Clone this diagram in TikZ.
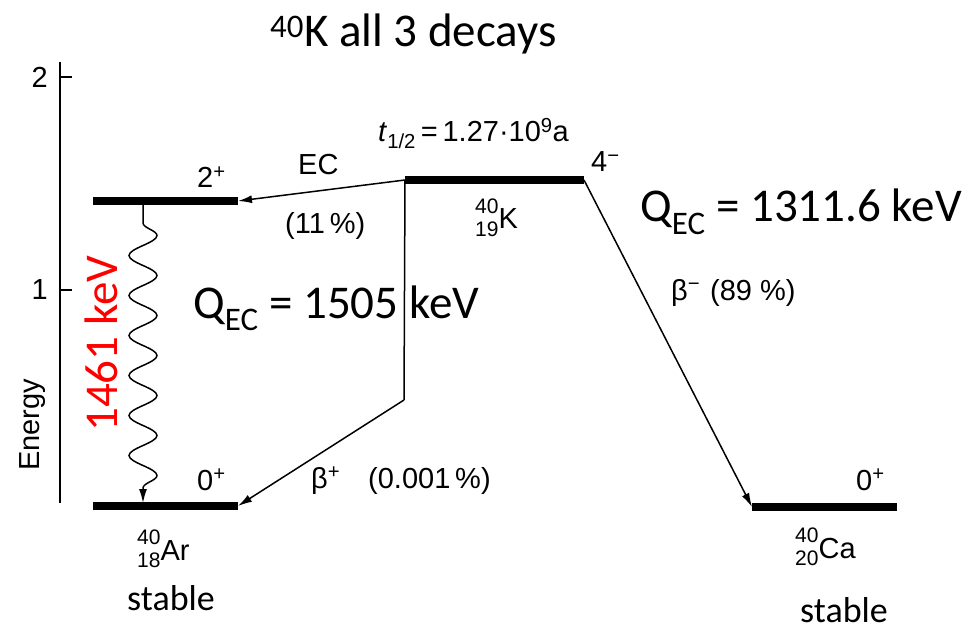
\documentclass[tikz,border=0pt]{standalone}
\usepackage{fontspec}
\setmainfont{Carlito}
\newfontfamily\helv{Liberation Sans}
\usetikzlibrary{arrows.meta,decorations.pathmorphing}
\newcommand\nuclide[3]{\makebox[0pt][l]{\raisebox{0.52em}{\fontsize{21}{21}\selectfont #1}}\raisebox{-0.27em}{\fontsize{21}{21}\selectfont #2}#3}

\begin{document}
\begin{tikzpicture}[x=1pt,y=-1pt]
\tikzset{
  level/.style={line width=8pt},
  axisline/.style={line width=1.5pt},
  trans/.style={line width=1.5pt,-{Latex[length=14pt,width=8pt]}},
  lbl/.style={font={\helv\fontsize{29}{34}\selectfont},inner sep=0pt,anchor=base west},
  note/.style={font={\fontsize{47}{55}\selectfont},inner sep=0pt,anchor=base west},
  stablelbl/.style={font={\fontsize{36}{42}\selectfont},inner sep=0pt,anchor=base west}
}
\useasboundingbox (0,0) rectangle (980,631);
\fill[white] (0,0) rectangle (980,631);
% axis
\coordinate (ax_top) at (60,62);
\coordinate (ax_bot) at (60,503);
\coordinate (tick2) at (60,77);
\coordinate (tick1) at (60,290);
\draw[axisline] (ax_top) -- (ax_bot);
\draw[axisline] (tick2) -- ++(12,0);
\draw[axisline] (tick1) -- ++(12,0);
\node[lbl,anchor=east] (n_two) at (48,77) {2};
\node[lbl,anchor=east] (n_one) at (48,290) {1};
\node[lbl,anchor=base,rotate=90] (n_energy) at (39,425) {Energy};
% levels
\coordinate (ar2_l) at (93,201);
\coordinate (ar2_r) at (238,201);
\coordinate (ar0_l) at (93,506);
\coordinate (ar0_r) at (238,506);
\coordinate (k_l) at (405,180);
\coordinate (k_r) at (584,180);
\coordinate (ca_l) at (752,507);
\coordinate (ca_r) at (897,507);
\coordinate (k_bend) at (404,400);
\coordinate (gam_top) at (143,201);
\coordinate (gam_bot) at (143,503);
\draw[level] (ar2_l) -- (ar2_r);
\draw[level] (ar0_l) -- (ar0_r);
\draw[level] (k_l) -- (k_r);
\draw[level] (ca_l) -- (ca_r);
% level labels
\node[lbl] (n_ar2spin) at (197,188) {2\textsuperscript{+}};
\node[lbl] (n_ar0spin) at (197,490) {0\textsuperscript{+}};
\node[lbl] (n_kspin) at (591,172) {4\textsuperscript{−}};
\node[lbl] (n_caspin) at (856,490) {0\textsuperscript{+}};
\node[lbl] (n_thalf) at (378,142) {\textit{t}\textsubscript{1/2}\,=\,1.27·10\textsuperscript{9}a};
\node[lbl] (n_k) at (475,229) {\nuclide{40}{19}{K}};
\node[lbl] (n_ar) at (137,560) {\nuclide{40}{18}{Ar}};
\node[lbl] (n_ca) at (795,558) {\nuclide{40}{20}{Ca}};
% transitions
\draw[trans] (k_l) -- (ar2_r);
\draw[line width=1.5pt] (k_l) -- (k_bend);
\draw[trans] (k_bend) -- (ar0_r);
\draw[trans] (k_r) -- (ca_l);
\draw[trans,decorate,decoration={snake,segment length=40pt,amplitude=14pt,pre length=22pt,post length=14pt}] (gam_top) -- (gam_bot);
\node[lbl] (n_ec) at (298,175) {EC};
\node[lbl] (n_ecpct) at (285,234) {(11\,\%)};
\node[lbl] (n_bplus) at (311,488) {β\textsuperscript{+}};
\node[lbl] (n_bpluspct) at (368,488) {(0.001\,\%)};
\node[lbl] (n_bminus) at (671,300) {β\textsuperscript{−}};
\node[lbl] (n_bminuspct) at (710,300) {(89 \%)};
% overlay text
\node[font={\fontsize{47}{55}\selectfont},inner sep=0pt,anchor=base west] (n_title) at (270,47) {\textsuperscript{40}K all 3 decays};
\node[note] (n_q1) at (193,318) {Q\textsubscript{EC} = 1505 keV};
\node[note] (n_q2) at (640,222) {Q\textsubscript{EC} = 1311.6 keV};
\node[note,text=red,rotate=90] (n_gamma) at (117,432) {1461 keV};
\node[stablelbl] (n_arstable) at (127,610) {stable};
\node[stablelbl] (n_castable) at (800,622) {stable};
\end{tikzpicture}
\end{document}
